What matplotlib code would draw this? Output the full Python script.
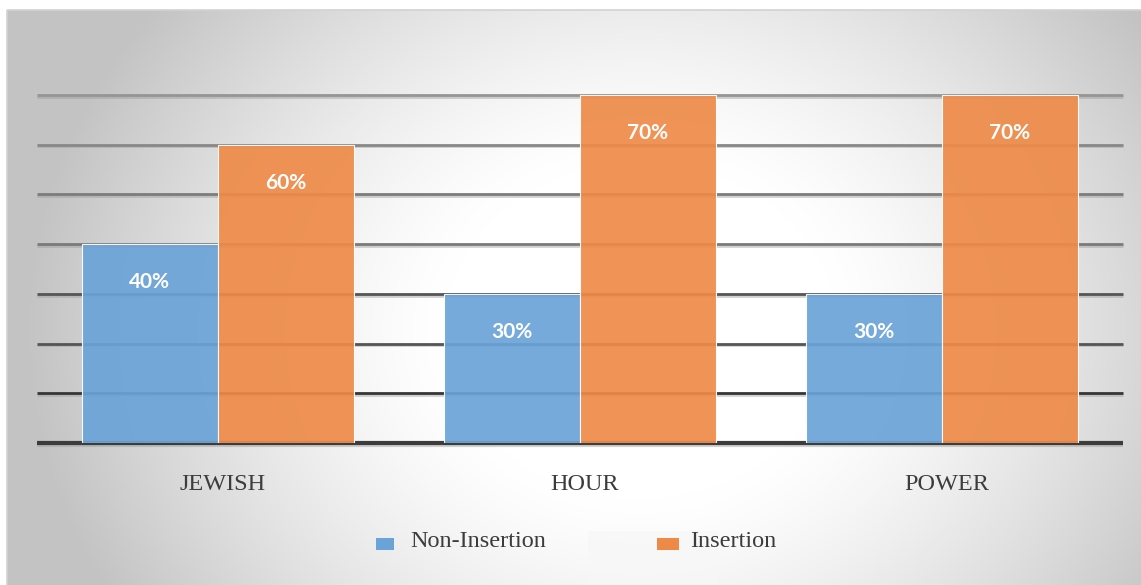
import numpy as np
import matplotlib
matplotlib.use("Agg")
import matplotlib.pyplot as plt
from matplotlib.patches import Rectangle
import matplotlib.patheffects as pe
from matplotlib.transforms import blended_transform_factory, offset_copy

# ---- data ----
categories = ["JEWISH", "HOUR", "POWER"]
series_names = ["Non-Insertion", "Insertion"]
non_insertion = [40, 30, 30]
insertion = [60, 70, 70]
y_ticks = [0, 10, 20, 30, 40, 50, 60, 70]

# ---- style ----
W, H, DPI = 1141, 585, 100
BLUE = "#6aa3d8"
ORANGE = "#ee8a48"
TEXT = "#3c3c3c"
grid_colors = ["#3c3c3c", "#363636", "#555555", "#555555",
               "#7a7a7a", "#7c7c7c", "#888888", "#959595"]

fig = plt.figure(figsize=(W / DPI, H / DPI), dpi=DPI)
fig.patch.set_facecolor("white")

# background panel with soft radial shading (pixel coordinates)
bg = fig.add_axes([0, 0, 1, 1], zorder=-5)
bg.set_xlim(0, W)
bg.set_ylim(H, 0)
bg.axis("off")
yy, xx = np.mgrid[0:H, 0:W]
u = (xx - 640) / 560.0
v = (yy - 330) / 480.0
r = np.hypot(u, v)
t = np.clip((r - 0.35) / 0.75, 0, 1) ** 1.3
g = (255 - 60 * t) / 255.0
img = np.dstack([g, g, g])[10:, 7:]
bg.imshow(img, extent=(7, W, H, 10), interpolation="bilinear", aspect="auto")
bg.add_patch(Rectangle((7, 10), W, H, fill=False, ec="#d2d2d2", lw=1.2))
# faint panel behind the second legend entry
bg.add_patch(Rectangle((588, 531), 130, 60, fc="#f7f7f7", ec="none", alpha=0.7))

# plot area
left, right, top, bottom = 37, 1123, 95, 443
ax = fig.add_axes([left / W, 1 - bottom / H, (right - left) / W, (bottom - top) / H])
ax.set_facecolor("none")
ax.set_xlim(-0.5, len(categories) - 0.5)
ax.set_ylim(min(y_ticks), max(y_ticks))
for s in ax.spines.values():
    s.set_visible(False)
ax.set_xticks([])
ax.set_yticks([])

shadow = [pe.SimpleLineShadow(offset=(0, -1.2), shadow_color="#9a9a9a", alpha=0.45), pe.Normal()]
for yv, col in zip(y_ticks, grid_colors):
    lw = 3.0 if yv == 0 else 2.0
    ax.axhline(yv, color=col, lw=lw, zorder=1, clip_on=False,
               solid_capstyle="butt", path_effects=shadow)

x = np.arange(len(categories))
width = 0.376
b1 = ax.bar(x - width / 2, non_insertion, width, color=BLUE, alpha=0.92,
            edgecolor=(1, 1, 1, 0.45), linewidth=0.8, zorder=2)
b2 = ax.bar(x + width / 2, insertion, width, color=ORANGE, alpha=0.92,
            edgecolor=(1, 1, 1, 0.45), linewidth=0.8, zorder=2)

for bars, vals in ((b1, non_insertion), (b2, insertion)):
    for rect, val in zip(bars, vals):
        ax.annotate(f"{val}%", (rect.get_x() + rect.get_width() / 2, val),
                    xytext=(0, -27.5), textcoords="offset points",
                    ha="center", va="center", color="white",
                    fontfamily="Lato", fontweight="bold", fontsize=15, zorder=3)

# category labels, nudged slightly right as in the source layout
trans = offset_copy(blended_transform_factory(ax.transData, ax.transAxes),
                    fig=fig, x=5, y=0, units="dots")
for xi, name in zip(x, categories):
    ax.text(xi, -(489.5 - bottom) / (bottom - top), name, transform=trans,
            ha="center", va="baseline", fontfamily="Liberation Serif",
            fontsize=17.5, color=TEXT)

# legend
legend_items = [(series_names[0], BLUE, 376, 18, 410),
                (series_names[1], ORANGE, 657, 22, 690)]
for label, col, sx, sw, tx in legend_items:
    bg.add_patch(Rectangle((sx, 538), sw, 12, fc=col, ec="none"))
    bg.text(tx, 547, label, ha="left", va="baseline",
            fontfamily="Liberation Serif", fontsize=17.5, color=TEXT)

fig.savefig("out.png", dpi=DPI)
